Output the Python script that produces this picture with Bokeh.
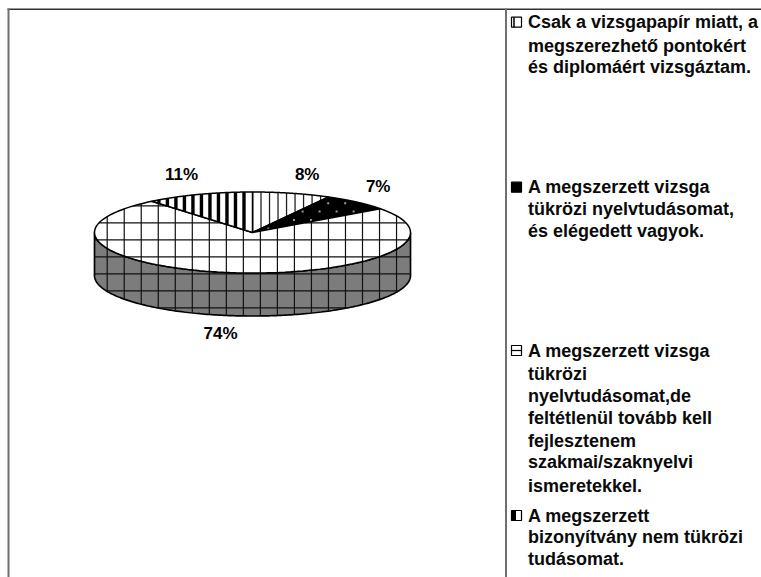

import numpy as np
from bokeh.plotting import figure
from bokeh.embed import file_html
from bokeh.resources import INLINE
from bokeh.models import Range1d
from bokeh.core.properties import value

categories = [
    ["Csak a vizsgapapír miatt, a", "megszerezhető pontokért", "és diplomáért vizsgáztam."],
    ["A megszerzett vizsga", "tükrözi nyelvtudásomat,", "és elégedett vagyok."],
    ["A megszerzett vizsga", "tükrözi", "nyelvtudásomat,de", "feltétlenül tovább kell", "fejlesztenem", "szakmai/szaknyelvi", "ismeretekkel."],
    ["A megszerzett", "bizonyítvány nem tükrözi", "tudásomat."],
]
percent = [8, 7, 74, 11]
labels = ["8%", "7%", "74%", "11%"]

W, H = 761, 577
p = figure(width=W, height=H, x_range=Range1d(0, 761), y_range=Range1d(577, 0),
           output_backend="svg", toolbar_location=None, min_border=0,
           outline_line_color=None, background_fill_color="white", border_fill_color="white")
p.axis.visible = False
p.grid.visible = False

CX, CY, A, B, D = 252.0, 232.0, 158.0, 40.5, 43.0
G = "#7c7c7c"

def ell(t):
    t = np.radians(t)
    return CX + A * np.sin(t), CY - B * np.cos(t)

def wedge(a0, a1):
    t = np.linspace(a0, a1, 120)
    x, y = ell(t)
    return np.r_[CX, x], np.r_[CY, y]

def clip(px, py, c, axis):
    u, v = (px, py) if axis == 0 else (py, px)
    u2, v2 = np.roll(u, -1), np.roll(v, -1)
    hits = []
    for a, b, e, f in zip(u, u2, v, v2):
        if (a <= c < b) or (b <= c < a):
            hits.append(e + (c - a) / (b - a) * (f - e))
    hits.sort()
    return [(hits[i], hits[i + 1]) for i in range(0, len(hits) - 1, 2)]

def vlines(px, py, xs, color="black", w=1.0):
    X, Y = [], []
    for c in xs:
        for s, e in clip(px, py, c, 0):
            X.append([c, c]); Y.append([s, e])
    if X:
        p.multi_line(X, Y, line_color=color, line_width=w)

def hlines(px, py, ys, color="black", w=1.0):
    X, Y = [], []
    for c in ys:
        for s, e in clip(px, py, c, 1):
            X.append([s, e]); Y.append([c, c])
    if X:
        p.multi_line(X, Y, line_color=color, line_width=w)

grid_x = 106.7 + 17.02 * np.arange(0, 19)
grid_y = 205.3 + 17.0 * np.arange(0, 7)

# side wall
t = np.linspace(90, 270, 200)
sx, sy = ell(t)
wx = np.r_[sx, sx[::-1]]
wy = np.r_[sy + D, sy[::-1]]
p.patch(wx, wy, fill_color=G, line_color="black", line_width=1.7)
vlines(wx, wy, grid_x, "#111111", 1.2)
hlines(wx, wy, grid_y, "#111111", 1.2)

# top faces
edges = np.r_[0, np.cumsum(percent)] * 3.6
for i in range(4):
    x, y = wedge(edges[i], edges[i + 1])
    p.patch(x, y, fill_color="black" if i == 1 else "white", line_color=None)
    if i == 0:
        vlines(x, y, CX + 8.51 * np.arange(0, 18), "#222222", 1.3)
    elif i == 1:
        dx, dy = [], []
        for r in range(-1, 5):
            for k in range(-3, 14):
                dx.append(327.7 - 8.6 * r + 17.0 * k)
                dy.append(202.7 + 8.4 * r)
        dx, dy = np.array(dx), np.array(dy)
        keep = np.array([any(s + 1 < b < e - 1 for s, e in clip(x, y, a, 0)) for a, b in zip(dx, dy)])
        p.scatter(dx[keep], dy[keep], size=2, marker="square", fill_color="#9a9a9a", line_color=None)
    elif i == 2:
        vlines(x, y, grid_x, "#111111", 1.2)
        hlines(x, y, grid_y, "#111111", 1.2)
    else:
        vlines(x, y, CX - 8.51 * np.arange(1, 14), "black", 3.4)
    p.patch(x, y, fill_color=None, line_color="black", line_width=1.5)

# percent labels
lab_x = [306.7, 377.7, 220, 181]
lab_y = [174, 186, 333, 174]
p.text(lab_x, lab_y, text=labels, text_font=value("Liberation Sans"), text_font_style="bold",
       text_font_size="17px", text_align="center", text_baseline="middle", text_color="black")

# legend
line_y = [[21.7, 45, 66.7], [186.7, 208.3, 230],
          [350, 373.3, 395, 417.3, 440, 461.7, 485], [515, 536.7, 558.3]]
for ls, ys in zip(categories, line_y):
    p.text([527.5] * len(ls), ys, text=ls, text_font=value("Liberation Sans"), text_font_style="bold",
           text_font_size="18px", text_align="left", text_baseline="middle", text_color="#0a0a0a")

ix0, ix1 = 511, 521
for k, ys in enumerate(line_y):
    y0, y1 = ys[0] - 5, ys[0] + 5
    p.quad(left=[ix0], right=[ix1], top=[y0], bottom=[y1],
           fill_color="black" if k == 1 else "white", line_color="black", line_width=1.2)
    if k == 0:
        p.multi_line([[ix0 + 2.5, ix0 + 2.5]], [[y0, y1]], line_color="black", line_width=1.5)
    elif k == 2:
        p.multi_line([[ix0, ix1]], [[ys[0], ys[0]]], line_color="black", line_width=1.2)
    elif k == 3:
        p.quad(left=[ix0], right=[ix0 + 4.5], top=[y0], bottom=[y1], fill_color="black", line_color=None)

# frame
p.multi_line([[7, 761], [8, 8], [505.5, 505.5]], [[8.8, 8.8], [8, 577], [8, 577]],
             line_color=["#333333", "#707070", "#707070"], line_width=[1.6, 2, 2])

open("out.html", "w").write(file_html(p, INLINE))
